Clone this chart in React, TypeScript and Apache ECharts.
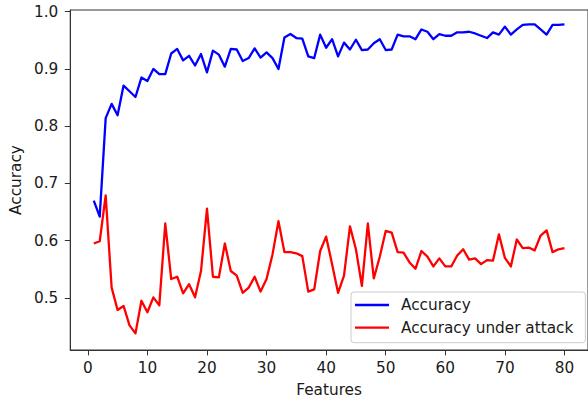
import React, { useEffect, useRef } from "react";
import * as echarts from "echarts";

const features: number[] = Array.from({ length: 80 }, (_, i) => i + 1);

const accuracy: number[] = [
  0.670, 0.642, 0.814, 0.839, 0.819, 0.871, 0.861, 0.851, 0.885, 0.879,
  0.900, 0.891, 0.891, 0.927, 0.935, 0.915, 0.923, 0.906, 0.926, 0.894,
  0.932, 0.925, 0.904, 0.935, 0.934, 0.914, 0.919, 0.936, 0.920, 0.929,
  0.919, 0.900, 0.955, 0.961, 0.954, 0.953, 0.922, 0.919, 0.960, 0.937,
  0.952, 0.922, 0.946, 0.934, 0.951, 0.933, 0.934, 0.945, 0.952, 0.933,
  0.934, 0.960, 0.957, 0.957, 0.952, 0.969, 0.965, 0.952, 0.961, 0.958,
  0.958, 0.964, 0.964, 0.965, 0.962, 0.958, 0.954, 0.964, 0.960, 0.974,
  0.960, 0.969, 0.977, 0.978, 0.978, 0.969, 0.960, 0.977, 0.977, 0.978,
];

const accuracyUnderAttack: number[] = [
  0.595, 0.599, 0.679, 0.518, 0.479, 0.486, 0.452, 0.438, 0.495, 0.475,
  0.501, 0.487, 0.630, 0.533, 0.537, 0.508, 0.524, 0.501, 0.547, 0.656,
  0.537, 0.536, 0.595, 0.547, 0.539, 0.509, 0.518, 0.537, 0.511, 0.533,
  0.576, 0.634, 0.580, 0.580, 0.578, 0.573, 0.511, 0.515, 0.582, 0.607,
  0.559, 0.509, 0.539, 0.625, 0.585, 0.521, 0.630, 0.534, 0.572, 0.617,
  0.614, 0.580, 0.579, 0.562, 0.551, 0.582, 0.572, 0.555, 0.569, 0.555,
  0.555, 0.574, 0.585, 0.567, 0.569, 0.559, 0.566, 0.565, 0.611, 0.570,
  0.555, 0.602, 0.587, 0.588, 0.583, 0.609, 0.618, 0.580, 0.585, 0.587,
];

const xTicks: number[] = [0, 10, 20, 30, 40, 50, 60, 70, 80];
const yTicks: number[] = [0.5, 0.6, 0.7, 0.8, 0.9, 1.0];

const FONT = "DejaVu Sans";
const FS = 15.3;

export default function App() {
  const ref = useRef<HTMLDivElement>(null);
  useEffect(() => {
    if (!ref.current) return;
    const chart = echarts.init(ref.current, undefined, { renderer: "svg" });
    const axisColor = "#333";
    chart.setOption({
      animation: false,
      backgroundColor: "#ffffff",
      textStyle: { fontFamily: FONT },
      grid: {
        left: 66.7,
        top: 10,
        right: -5.3,
        bottom: 51.3,
        show: true,
        borderColor: axisColor,
        borderWidth: 1,
        backgroundColor: "transparent",
      },
      legend: {
        orient: "vertical",
        left: 351,
        top: 292,
        padding: [4.5, 12, 6.5, 4],
        itemGap: 5.7,
        itemWidth: 34,
        itemHeight: 2.3,
        icon: "rect",
        backgroundColor: "rgba(255,255,255,0.8)",
        borderColor: "#cccccc",
        borderWidth: 1,
        borderRadius: 3,
        textStyle: {
          fontFamily: FONT,
          fontSize: FS,
          color: "#1a1a1a",
          lineHeight: 17,
          padding: [0, 0, 0, 7],
        },
        data: ["Accuracy", "Accuracy under attack"],
      },
      xAxis: {
        type: "value",
        min: -2.95,
        max: 83.95,
        name: "Features",
        nameLocation: "middle",
        nameGap: 32,
        nameTextStyle: { fontFamily: FONT, fontSize: FS, color: "#1a1a1a" },
        axisLine: { show: true, onZero: false, lineStyle: { color: axisColor, width: 1 } },
        axisTick: {
          show: true,
          length: 5.4,
          inside: false,
          customValues: xTicks,
          lineStyle: { color: axisColor, width: 1 },
        },
        axisLabel: {
          show: true,
          customValues: xTicks,
          margin: 10,
          fontFamily: FONT,
          fontSize: FS,
          color: "#1a1a1a",
        },
        splitLine: { show: false },
      },
      yAxis: {
        type: "value",
        min: 0.409,
        max: 1.003,
        name: "Accuracy",
        nameLocation: "middle",
        nameGap: 46,
        nameTextStyle: { fontFamily: FONT, fontSize: FS, color: "#1a1a1a" },
        axisLine: { show: true, onZero: false, lineStyle: { color: axisColor, width: 1 } },
        axisTick: {
          show: true,
          length: 5.4,
          inside: false,
          customValues: yTicks,
          lineStyle: { color: axisColor, width: 1 },
        },
        axisLabel: {
          show: true,
          customValues: yTicks,
          margin: 12,
          fontFamily: FONT,
          fontSize: FS,
          color: "#1a1a1a",
          formatter: (v: number) => v.toFixed(1),
        },
        splitLine: { show: false },
      },
      series: [
        {
          name: "Accuracy",
          type: "line",
          data: features.map((f, i) => [f, accuracy[i]]),
          showSymbol: false,
          symbol: "none",
          lineStyle: { color: "#0000ff", width: 2.3, join: "round" },
          itemStyle: { color: "#0000ff" },
          z: 3,
        },
        {
          name: "Accuracy under attack",
          type: "line",
          data: features.map((f, i) => [f, accuracyUnderAttack[i]]),
          showSymbol: false,
          symbol: "none",
          lineStyle: { color: "#ff0000", width: 2.3, join: "round" },
          itemStyle: { color: "#ff0000" },
          z: 3,
        },
      ],
    });
    return () => chart.dispose();
  }, []);
  return (
    <div
      ref={ref}
      style={{ position: "absolute", left: 0, top: 0, width: 588, height: 402 }}
    />
  );
}
